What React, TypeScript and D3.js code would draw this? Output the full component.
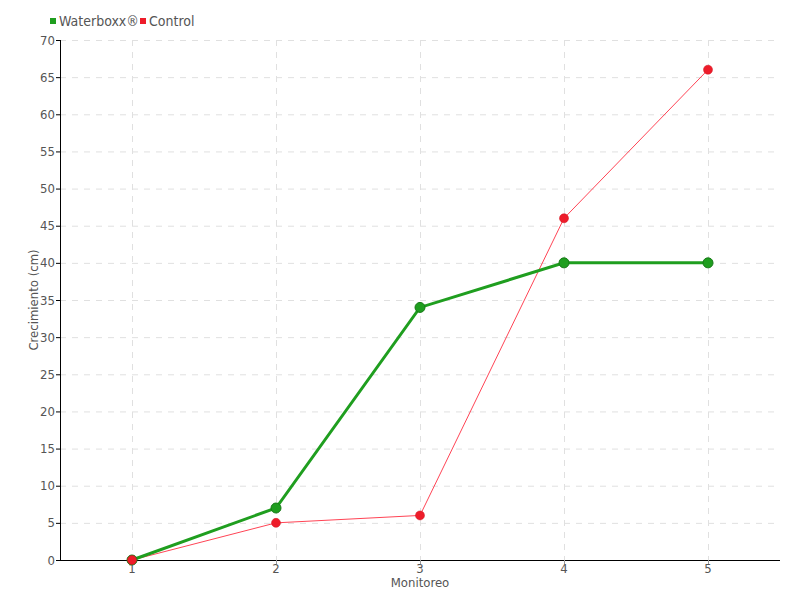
import React from "react";
import * as d3 from "d3";

const categories = ["1", "2", "3", "4", "5"];
const waterboxx = [0, 7, 34, 40, 40];
const control = [0, 5, 6, 46, 66];
const yTicks = [0, 5, 10, 15, 20, 25, 30, 35, 40, 45, 50, 55, 60, 65, 70];

const W = 800, H = 600;
const left = 60, right = 780, top = 40, bottom = 560;
const FONT = "'DejaVu Sans Condensed', 'DejaVu Sans', sans-serif";

export default function App() {
  const x = d3.scaleBand().domain(categories).range([left, right]);
  const cx = (c: string) => (x(c) as number) + x.bandwidth() / 2;
  const y = d3.scaleLinear().domain([0, 70]).range([bottom, top]);
  const line = d3.line<number>().x((_, i) => cx(categories[i])).y((d) => y(d));

  return (
    <svg width={W} height={H} style={{ position: "absolute", left: 0, top: 0 }} fontFamily={FONT}>
      <rect width={W} height={H} fill="#fff" />
      {yTicks.map((t) => (
        <line key={"g" + t} x1={left} x2={right} y1={y(t) + 0.5} y2={y(t) + 0.5} stroke="#e0e0e0" strokeDasharray="6,6" />
      ))}
      {categories.map((c) => (
        <line key={"v" + c} x1={cx(c) + 0.5} x2={cx(c) + 0.5} y1={top} y2={bottom} stroke="#e0e0e0" strokeDasharray="6,6" />
      ))}
      <line x1={left} x2={right} y1={bottom + 0.5} y2={bottom + 0.5} stroke="#000" strokeWidth={1} />
      <line x1={left + 0.5} x2={left + 0.5} y1={top} y2={bottom} stroke="#000" strokeWidth={1} />
      {yTicks.map((t) => (
        <g key={"t" + t}>
          <line x1={left - 4} x2={left} y1={y(t) + 0.5} y2={y(t) + 0.5} stroke="#000" />
          <text x={left - 5} y={y(t)} dy="0.35em" textAnchor="end" fontSize={13} fill="#555">{t}</text>
        </g>
      ))}
      {categories.map((c) => (
        <g key={"xt" + c}>
          <line x1={cx(c) + 0.5} x2={cx(c) + 0.5} y1={bottom} y2={bottom + 4} stroke="#999" />
          <text x={cx(c)} y={bottom + 13} textAnchor="middle" fontSize={13} fill="#555">{c}</text>
        </g>
      ))}
      <text x={(left + right) / 2} y={587} textAnchor="middle" fontSize={13} fill="#555">Monitoreo</text>
      <text transform={`translate(38,${(top + bottom) / 2}) rotate(-90)`} textAnchor="middle" fontSize={13} fill="#555">Crecimiento (cm)</text>

      <path d={line(control) as string} fill="none" stroke="#ff4455" strokeWidth={1} />
      <path d={line(waterboxx) as string} fill="none" stroke="#1f9e1f" strokeWidth={3} />
      {waterboxx.map((v, i) => (
        <circle key={"w" + i} cx={cx(categories[i])} cy={y(v)} r={5} fill="#1f9e1f" stroke="#177a17" strokeWidth={1} />
      ))}
      {control.map((v, i) => (
        <circle key={"c" + i} cx={cx(categories[i])} cy={y(v)} r={4.5} fill="#ee1c2a" stroke="#d0101c" strokeWidth={0.5} />
      ))}

      <rect x={50} y={18} width={6} height={6} fill="#1f9e1f" />
      <text x={59} y={26} fontSize={14} fill="#555">Waterboxx®</text>
      <rect x={140} y={18} width={6} height={6} fill="#ee1c2a" />
      <text x={149} y={26} fontSize={14} fill="#555">Control</text>
    </svg>
  );
}
